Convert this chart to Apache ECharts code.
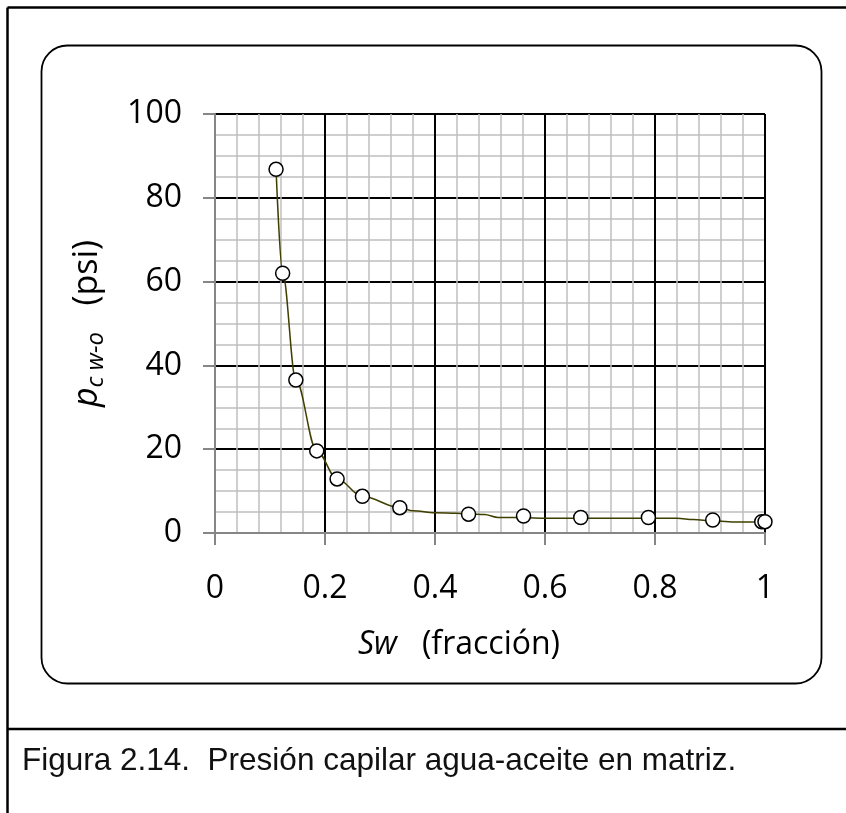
<!DOCTYPE html>
<html><head><meta charset="utf-8">
<script src="https://cdn.jsdelivr.net/npm/echarts@6/dist/echarts.min.js"></script>
<style>html,body{margin:0;padding:0;background:#fff}#c{width:846px;height:813px}</style>
</head><body><div id="c"></div>
<script>
// Marker points (Sw, pc w-o)
const markerSw = [0.111, 0.123, 0.147, 0.185, 0.222, 0.268, 0.336, 0.461, 0.561, 0.665, 0.788, 0.905, 0.994, 1.0];
const markerPc = [86.8, 62.0, 36.5, 19.6, 12.9, 8.75, 6.05, 4.5, 4.05, 3.7, 3.7, 3.1, 2.7, 2.7];
// Smoothed curve points
const curveSw = [0.111, 0.123, 0.147, 0.185, 0.222, 0.268, 0.336, 0.36, 0.40, 0.44, 0.461, 0.49, 0.515, 0.561, 0.60, 0.665, 0.788, 0.84, 0.87, 0.905, 0.95, 1.0];
const curvePc = [86.8, 62.0, 36.5, 19.6, 12.9, 8.75, 6.05, 5.3, 4.85, 4.7, 4.5, 4.4, 3.7, 3.7, 3.5, 3.5, 3.5, 3.5, 3.2, 2.9, 2.6, 2.6];
const xTickValues = [0, 0.2, 0.4, 0.6, 0.8, 1];
const yTickValues = [0, 20, 40, 60, 80, 100];
const captionText = 'Figura 2.14.  Presión capilar agua-aceite en matriz.';

const chart = echarts.init(document.getElementById('c'), null, {renderer: 'canvas'});
const font = '"Open Sans", "Noto Sans", sans-serif';
const axisGray = '#868686';
const majorColorsX = xTickValues.map((v, i) => i === 0 ? axisGray : '#000');
const majorColorsY = yTickValues.map((v, i) => i === 0 ? axisGray : '#000');

chart.setOption({
  animation: false,
  backgroundColor: '#fff',
  grid: {left: 215, right: 81, top: 114, bottom: 280, containLabel: false},
  xAxis: {
    type: 'value', min: 0, max: 1, interval: 0.2,
    name: '{i|Sw}   (fracción)',
    nameLocation: 'middle', nameGap: 96,
    nameTextStyle: {fontSize: 32, fontFamily: font, color: '#000', padding: [0, 62, 0, 0],
      rich: {i: {fontSize: 32, fontFamily: font, fontStyle: 'italic', color: '#000'}}},
    axisLine: {show: true, lineStyle: {color: axisGray, width: 2}},
    axisTick: {show: true, inside: false, length: 12, lineStyle: {color: axisGray, width: 2}},
    axisLabel: {margin: 40, fontSize: 32, fontFamily: font, color: '#000',
      formatter: v => String(v)},
    splitLine: {show: true, lineStyle: {color: majorColorsX, width: 2}},
    minorTick: {show: false, splitNumber: 5},
    minorSplitLine: {show: true, lineStyle: {color: '#bfbfbf', width: 1.5}}
  },
  yAxis: {
    type: 'value', min: 0, max: 100, interval: 20,
    name: '{i|p}{s|c w-o}   (psi)',
    nameLocation: 'middle', nameGap: 107, nameRotate: 90,
    nameTextStyle: {fontSize: 34, fontFamily: font, color: '#000', lineHeight: 42,
      rich: {
        i: {fontSize: 34, fontFamily: font, fontStyle: 'italic', color: '#000', lineHeight: 42},
        s: {fontSize: 24, fontFamily: font, fontStyle: 'italic', color: '#000', lineHeight: 12, verticalAlign: 'bottom'}
      }},
    axisLine: {show: true, lineStyle: {color: axisGray, width: 2}},
    axisTick: {show: true, inside: false, length: 12, lineStyle: {color: axisGray, width: 2}},
    axisLabel: {margin: 33, fontSize: 32, fontFamily: font, color: '#000'},
    splitLine: {show: true, lineStyle: {color: majorColorsY, width: 2}},
    minorTick: {show: false, splitNumber: 4},
    minorSplitLine: {show: true, lineStyle: {color: '#bfbfbf', width: 1.5}}
  },
  series: [
    {
      type: 'line', data: curveSw.map((x, i) => [x, curvePc[i]]),
      smooth: 0.35, smoothMonotone: 'x', showSymbol: false, symbol: 'none',
      lineStyle: {color: '#3f3f00', width: 1.5}, z: 3, silent: true
    },
    {
      type: 'scatter', data: markerSw.map((x, i) => [x, markerPc[i]]),
      symbol: 'circle', symbolSize: 14,
      itemStyle: {color: '#fff', borderColor: '#000', borderWidth: 1.5, opacity: 1}, z: 4
    }
  ],
  graphic: [
    {type: 'line', shape: {x1: 7.5, y1: 7.5, x2: 846, y2: 7.5}, style: {stroke: '#000', lineWidth: 2.5}, z: 10},
    {type: 'line', shape: {x1: 7.5, y1: 7.5, x2: 7.5, y2: 813}, style: {stroke: '#000', lineWidth: 2.5}, z: 10},
    {type: 'line', shape: {x1: 7.5, y1: 729, x2: 846, y2: 729}, style: {stroke: '#000', lineWidth: 2.5}, z: 10},
    {type: 'rect', shape: {x: 41.5, y: 45.5, width: 780, height: 638, r: 26},
      style: {stroke: '#000', lineWidth: 1.8, fill: 'none'}, z: 10},
    {type: 'text', x: 22, y: 761, style: {text: captionText, font: '31.5px "Liberation Sans", Arial, sans-serif', fill: '#111', verticalAlign: 'middle'}, z: 10}
  ]
});
</script>
</body></html>
